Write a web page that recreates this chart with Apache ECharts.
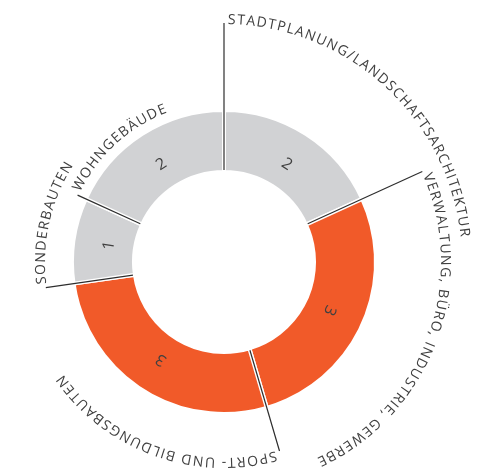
<!DOCTYPE html>
<html><head><meta charset="utf-8">
<script src="https://cdn.jsdelivr.net/npm/echarts@6/dist/echarts.min.js"></script>
<style>html,body{margin:0;padding:0;background:#fff}#c{width:490px;height:471px}</style>
</head><body><div id="c"></div>
<script>
// ---- data ----
const categories = [
  'STADTPLANUNG/LANDSCHAFTSARCHITEKTUR',
  'VERWALTUNG, BÜRO, INDUSTRIE, GEWERBE',
  'SPORT- UND BILDUNGSBAUTEN',
  'SONDERBAUTEN',
  'WOHNGEBÄUDE'
];
const values = [2, 3, 3, 1, 2];
const colorGroup = [0, 1, 1, 0, 0];

// ---- layout / style ----
const palette = ['#d1d2d4', '#f15a29'];
const leaderRadius = [239, 218, 197, 180, 161];
const CX = 224, CY = 262, R_IN = 92, R_OUT = 150;
const FONT_FAMILY = '"Open Sans", sans-serif';
const LABEL_SIZE = 14, LETTER_SP = 1.5, VALUE_SIZE = 16, VALUE_R = 116;
const TEXT_COLOR = '#404040';

const total = values.reduce((a, b) => a + b, 0);
const starts = [];
let acc = 0;
values.forEach(v => { starts.push(acc); acc += v; });

const mctx = document.createElement('canvas').getContext('2d');
mctx.font = LABEL_SIZE + 'px ' + FONT_FAMILY;
const cw = ch => mctx.measureText(ch).width;

const chart = echarts.init(document.getElementById('c'), null, { renderer: 'canvas' });
chart.setOption({
  animation: false,
  polar: { center: [CX, CY], radius: 300 },
  angleAxis: { type: 'value', min: 0, max: total, startAngle: 90, clockwise: true, show: false },
  radiusAxis: { type: 'value', min: 0, max: 300, show: false },
  series: [
    {
      type: 'pie',
      center: [CX, CY],
      radius: [R_IN - 2, R_OUT + 2],
      startAngle: 90,
      clockwise: true,
      silent: true,
      label: { show: false },
      labelLine: { show: false },
      itemStyle: { borderColor: '#ffffff', borderWidth: 4 },
      data: values.map((v, i) => ({ value: v, name: categories[i], itemStyle: { color: palette[colorGroup[i]] } }))
    },
    {
      type: 'custom',
      coordinateSystem: 'polar',
      clip: false,
      silent: true,
      z: 5,
      data: values.map((v, i) => [leaderRadius[i], starts[i], i]),
      renderItem(params, api) {
        const R = api.value(0);
        const a0 = api.value(1);
        const i = api.value(2);
        const c = api.coord([0, 0]);
        const p1 = api.coord([R_IN, a0]);
        const p2 = api.coord([R, a0]);
        const children = [{
          type: 'line',
          shape: { x1: p1[0], y1: p1[1], x2: p2[0], y2: p2[1] },
          style: { stroke: '#2e2e2e', lineWidth: 1.2 }
        }];
        const rt = R + 3;
        let s = 4;
        for (const ch of categories[i]) {
          const w = cw(ch);
          const mid = s + w / 2;
          const a = a0 + (mid / rt) / (2 * Math.PI) * total;
          const p = api.coord([rt, a]);
          const phi = Math.atan2(p[1] - c[1], p[0] - c[0]);
          children.push({
            type: 'text', x: p[0], y: p[1], rotation: -(phi + Math.PI / 2),
            style: { text: ch, fontSize: LABEL_SIZE, fontFamily: FONT_FAMILY, fill: TEXT_COLOR, align: 'center', verticalAlign: 'middle' }
          });
          s += w + LETTER_SP;
        }
        const am = a0 + values[i] / 2;
        const pm = api.coord([VALUE_R, am]);
        const phm = Math.atan2(pm[1] - c[1], pm[0] - c[0]);
        children.push({
          type: 'text', x: pm[0], y: pm[1], rotation: -(phm + Math.PI / 2),
          style: { text: String(values[i]), fontSize: VALUE_SIZE, fontFamily: FONT_FAMILY, fill: TEXT_COLOR, align: 'center', verticalAlign: 'middle' }
        });
        return { type: 'group', children };
      }
    }
  ]
});
</script>
</body></html>
